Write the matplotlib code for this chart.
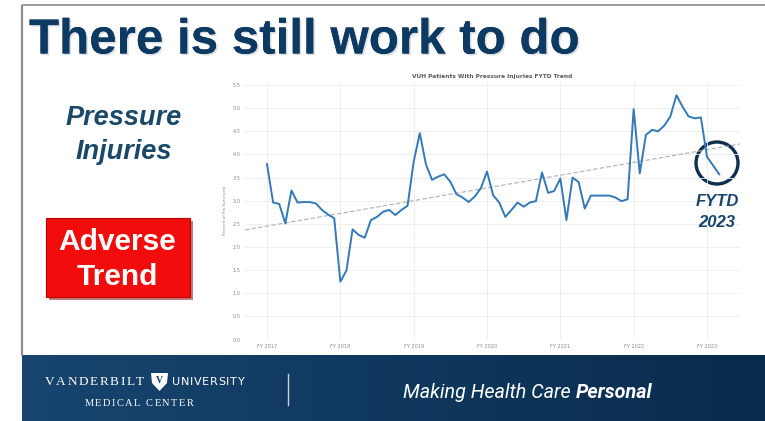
import numpy as np
import matplotlib
matplotlib.use("Agg")
import matplotlib.pyplot as plt
from matplotlib.patches import Rectangle, Circle, Polygon
import matplotlib.patheffects as pe

W, H = 765, 421

# ---------------- data ----------------
fiscal_years = ["FY 2017", "FY 2018", "FY 2019", "FY 2020", "FY 2021", "FY 2022", "FY 2023"]
pressure_injury_pct = [
    3.79, 2.96, 2.93, 2.51, 3.22, 2.96, 2.97, 2.97, 2.94, 2.80, 2.70, 2.62,
    1.25, 1.49, 2.38, 2.26, 2.20, 2.58, 2.65, 2.76, 2.80, 2.69, 2.80, 2.89,
    3.84, 4.46, 3.79, 3.45, 3.52, 3.57, 3.41, 3.14, 3.07, 2.97, 3.09, 3.27,
    3.63, 3.12, 2.96, 2.65, 2.80, 2.96, 2.87, 2.96, 2.99, 3.61, 3.17, 3.21,
    3.48, 2.58, 3.50, 3.40, 2.83, 3.11, 3.11, 3.11, 3.11, 3.07, 2.99, 3.03,
    4.98, 3.59, 4.42, 4.53, 4.50, 4.62, 4.82, 5.28, 5.03, 4.82, 4.78, 4.80,
    3.95, 3.76, 3.57,
]
y_ticks = [0.0, 0.5, 1.0, 1.5, 2.0, 2.5, 3.0, 3.5, 4.0, 4.5, 5.0, 5.5]
chart_title = "VUH Patients With Pressure Injuries FYTD Trend"
y_label = "Percent of Pts Surveyed"

fig = plt.figure(figsize=(W / 100, H / 100), dpi=100)
fig.patch.set_facecolor("white")

bg = fig.add_axes([0, 0, 1, 1], zorder=0)
bg.set_xlim(0, W)
bg.set_ylim(H, 0)
bg.axis("off")

# slide border
bg.plot([22, 22], [5, 356], color="#8c8c8c", lw=1.6, solid_capstyle="butt")
bg.plot([22, W], [5, 5], color="#9a9a9a", lw=1.4, solid_capstyle="butt")

# footer gradient
grad = np.linspace(0, 1, 300)
c1 = np.array([0x17, 0x45, 0x6f]) / 255
c2 = np.array([0x09, 0x2b, 0x4c]) / 255
img = (c1[None, :] * (1 - grad[:, None]) + c2[None, :] * grad[:, None])[None, :, :]
bg.imshow(img, extent=[22, W, H, 355], aspect="auto", interpolation="bilinear", zorder=1)
bg.set_xlim(0, W)
bg.set_ylim(H, 0)

fig.canvas.draw()
renderer = fig.canvas.get_renderer()
inv = bg.transData.inverted()


def width_px(t):
    return t.get_window_extent(renderer=renderer).width


def spaced_text(x, y, s, track, align="left", **kw):
    """Draw text with extra letter spacing (pixel units)."""
    widths = []
    for ch in s:
        t = bg.text(0, 0, ch if ch != " " else "n", **kw)
        widths.append(width_px(t) * (0.55 if ch == " " else 1.0))
        t.remove()
    total = sum(widths) + track * (len(s) - 1)
    if align == "center":
        x = x - total / 2
    cx = x
    for ch, w in zip(s, widths):
        if ch != " ":
            bg.text(cx, y, ch, ha="left", va="center", **kw)
        cx += w + track


# title
bg.text(29, 41, "There is still work to do", fontsize=35.5, fontweight="bold",
        family="Liberation Sans", color="#0c3a62", ha="left", va="center",
        path_effects=[pe.withSimplePatchShadow(offset=(1.2, -1.2), shadow_rgbFace="#b8c0c8", alpha=0.5),
                      pe.Normal()])

# left labels
bg.text(124, 118, "Pressure", fontsize=19.5, fontweight="bold", style="italic",
        family="Liberation Sans", color="#1a4868", ha="center", va="center")
bg.text(124, 152, "Injuries", fontsize=19.5, fontweight="bold", style="italic",
        family="Liberation Sans", color="#1a4868", ha="center", va="center")

# red box with shadow
bg.add_patch(Rectangle((49, 221), 144, 79, facecolor="#8a1010", edgecolor="none", alpha=0.55, zorder=2))
bg.add_patch(Rectangle((46, 218), 144, 79, facecolor="#f20d0d", edgecolor="#c00000", lw=0.8, zorder=3))
bg.text(117, 242, "Adverse", fontsize=21.5, fontweight="bold", family="Liberation Sans",
        color="white", ha="center", va="center", zorder=4)
bg.text(117, 277, "Trend", fontsize=21.5, fontweight="bold", family="Liberation Sans",
        color="white", ha="center", va="center", zorder=4)

# footer texts
spaced_text(45, 382, "VANDERBILT", 1.6, fontsize=9.5, family="Liberation Serif", color="white", zorder=5)
shield = Polygon([[151, 373], [168, 373], [167, 383], [159.5, 391], [152, 383]], closed=True,
                 facecolor="white", edgecolor="none", zorder=5)
bg.add_patch(shield)
bg.text(159.5, 380.5, "V", fontsize=7, fontweight="bold", family="Liberation Serif", color="#0f3a62",
        ha="center", va="center", zorder=6)
spaced_text(172, 382, "UNIVERSITY", 0.7, fontsize=8, family="DejaVu Sans", color="white", zorder=5)
spaced_text(139, 404, "MEDICAL CENTER", 1.5, align="center", fontsize=7.5, family="Liberation Serif",
            color="white", zorder=5)
bg.plot([288, 288], [374, 405], color="#c8d0d8", lw=1.0, zorder=5)

t1 = bg.text(403, 393, "Making Health Care ", fontsize=14.2, style="italic", family="Roboto",
             color="white", ha="left", va="center", zorder=5)
bb = t1.get_window_extent(renderer=renderer)
xd, _ = inv.transform((bb.x1, 0))
bg.text(xd, 393, "Personal", fontsize=14.2, style="italic", fontweight="bold", family="Roboto",
        color="white", ha="left", va="center", zorder=5)

# ---------------- chart ----------------
left_px, right_px, top_px, bottom_px = 245, 740, 82, 339.5
ax = fig.add_axes([left_px / W, 1 - bottom_px / H, (right_px - left_px) / W, (bottom_px - top_px) / H],
                  zorder=2)
ax.patch.set_alpha(0)
months = np.arange(len(pressure_injury_pct))
tick_pos = np.arange(len(fiscal_years)) * 12

xlim = (-3.6, 77.4)
ax.set_xlim(*xlim)
ax.set_ylim(0, 5.565)

ax.set_xticks(tick_pos)
ax.set_xticklabels(fiscal_years)
ax.set_yticks(y_ticks)
ax.set_yticklabels([f"{v:.1f}" for v in y_ticks])
ax.tick_params(axis="both", length=0, labelsize=3.6, colors="#8a8a8a", pad=3)
ax.grid(True, color="#ececec", lw=0.6)
ax.set_axisbelow(True)
for s in ax.spines.values():
    s.set_visible(False)

# trend line (linear fit of the data)
coef = np.polyfit(months, pressure_injury_pct, 1)
xt = np.array(xlim)
ax.plot(xt, np.polyval(coef, xt), ls=(0, (4, 2)), color="#b0b0b0", lw=0.8, zorder=2)

ax.plot(months, pressure_injury_pct, color="#3379b8", lw=1.4, zorder=3, solid_joinstyle="round")

ax.set_title(chart_title, fontsize=4.2, fontweight="bold", color="#5a5a5a", pad=3)
ax.set_ylabel(y_label, fontsize=3, color="#8a8a8a", labelpad=4)

# FYTD circle and label
bg.add_patch(Circle((717, 163), 21, facecolor="none", edgecolor="#0c2f4f", lw=2.4, zorder=10))
fig.text(717 / W, 1 - 201 / H, "FYTD", fontsize=12, fontweight="bold", style="italic",
         family="Liberation Sans", color="#17456b", ha="center", va="center", zorder=11)
fig.text(717 / W, 1 - 222.5 / H, "2023", fontsize=12, fontweight="bold", style="italic",
         family="Liberation Sans", color="#17456b", ha="center", va="center", zorder=11)

fig.savefig("out.png", dpi=100, facecolor="white")
